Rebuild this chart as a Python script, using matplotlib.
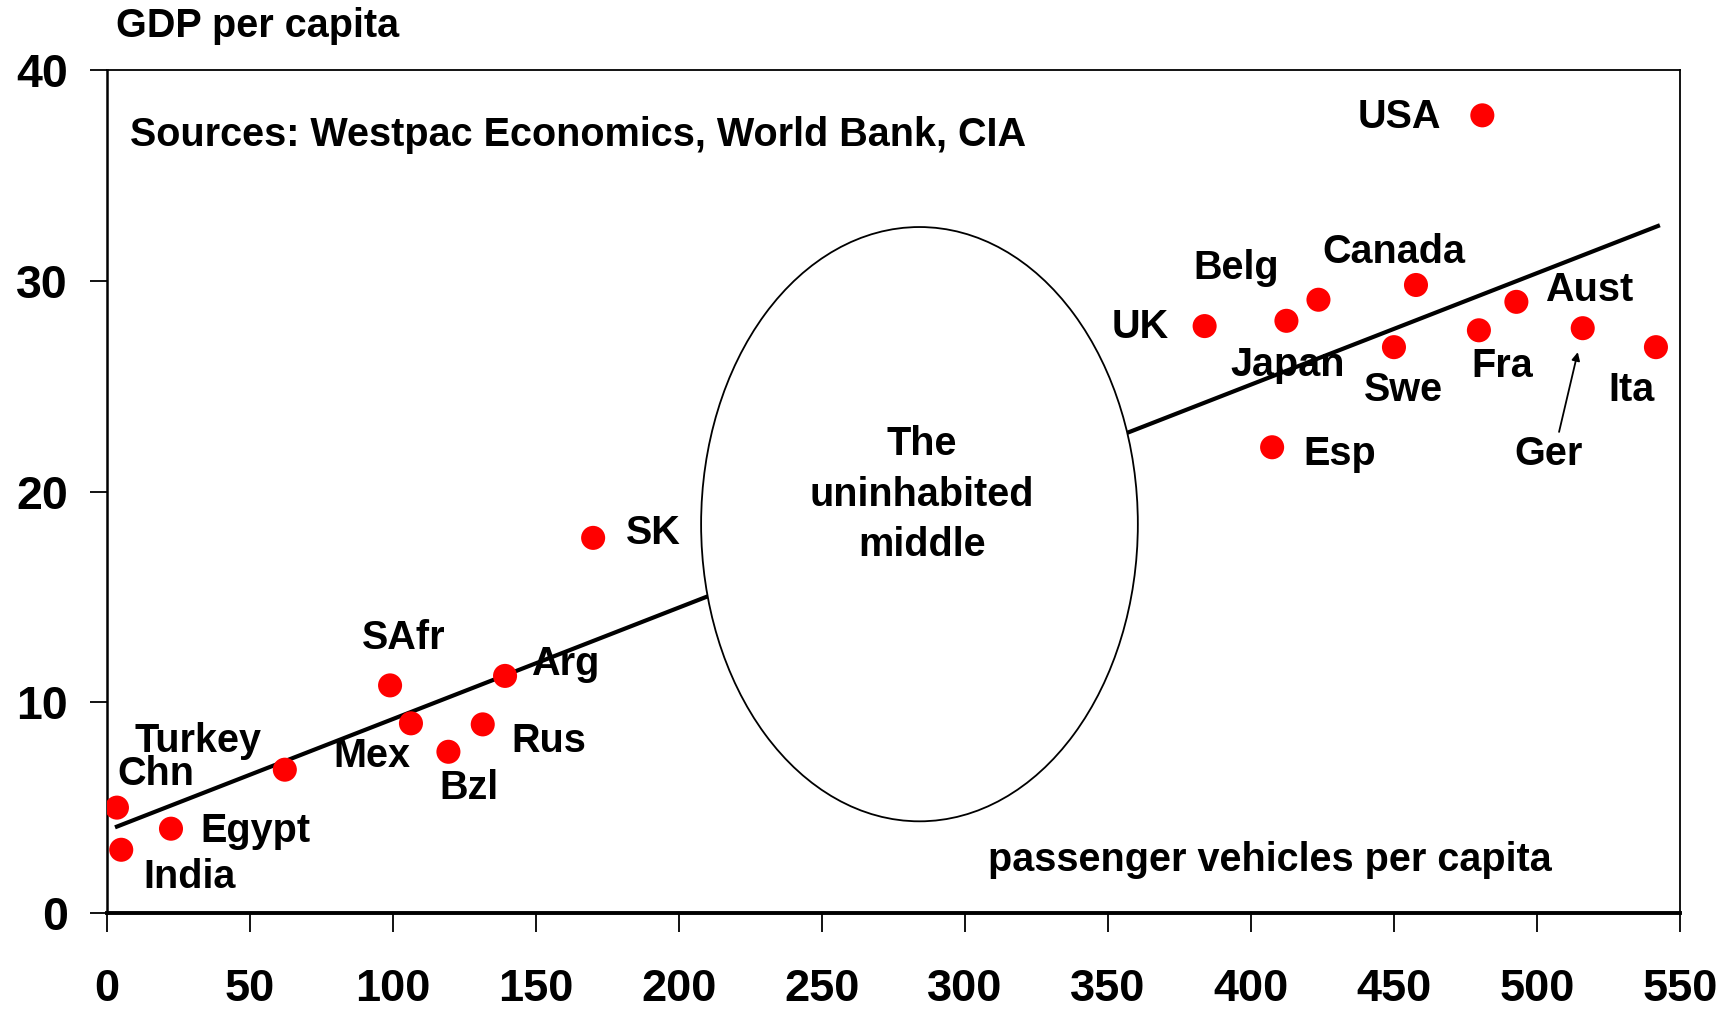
import matplotlib
matplotlib.use("Agg")
import matplotlib.pyplot as plt
from matplotlib.patches import Ellipse

plt.rcParams['font.family'] = ['Liberation Sans', 'DejaVu Sans']
plt.rcParams['font.weight'] = 'bold'

# ---- data ----
countries = ["Chn", "India", "Egypt", "Turkey", "SAfr", "Mex", "Bzl", "Rus", "Arg", "SK",
             "UK", "Esp", "Japan", "Belg", "Swe", "Canada", "Fra", "USA", "Aust", "Ger", "Ita"]
vehicles = [3.5, 5, 22.4, 62.2, 99, 106.3, 119.4, 131.4, 139.2, 170,
            383.8, 407.4, 412.4, 423.6, 450, 457.7, 479.7, 480.9, 492.8, 516, 541.6]
gdp = [5.0, 3.0, 4.0, 6.8, 10.8, 9.0, 7.65, 8.95, 11.25, 17.8,
       27.85, 22.1, 28.1, 29.1, 26.85, 29.8, 27.65, 37.85, 29.0, 27.75, 26.85]
trend_x = [3.5, 542.3]
trend_y = [4.1, 32.6]
x_ticks = [0, 50, 100, 150, 200, 250, 300, 350, 400, 450, 500, 550]
y_ticks = [0, 10, 20, 30, 40]

# ---- label layout (data coords, left-aligned) ----
label_pos = {
    "USA": (437.2, 37.75), "Belg": (380.0, 30.6), "Canada": (424.8, 31.35),
    "UK": (351.4, 27.8), "Aust": (502.9, 29.55), "Japan": (392.7, 26.0),
    "Fra": (477.0, 25.95), "Swe": (439.5, 24.8), "Ita": (524.9, 24.8),
    "Esp": (418.2, 21.8), "Ger": (492.1, 21.8), "SK": (181.3, 18.05),
    "SAfr": (89.3, 13.05), "Arg": (148.4, 11.8), "Turkey": (9.7, 8.15),
    "Rus": (141.5, 8.15), "Mex": (79.2, 7.45), "Chn": (3.5, 6.6),
    "Bzl": (116.4, 5.95), "Egypt": (32.5, 3.9), "India": (12.8, 1.7),
}

FS = 28.5

fig = plt.figure(figsize=(17.33, 10.15), dpi=100)
ax = fig.add_axes([0.0617, 0.1005, 0.9077, 0.8305])

ax.plot(trend_x, trend_y, color='black', lw=3, zorder=2)
ell = Ellipse((284.1, 18.45), 152.7, 28.2, facecolor='white', edgecolor='black', lw=1.3, zorder=3)
ax.add_patch(ell)
ax.scatter(vehicles, gdp, s=300, color='#ff0000', edgecolor='none', zorder=4)

for name, (lx, ly) in label_pos.items():
    ax.text(lx, ly, name, fontsize=FS, fontweight='bold', ha='left', va='center', zorder=5)

ax.annotate("", xy=(514.5, 26.74), xytext=(507.5, 22.7),
            arrowprops=dict(arrowstyle='-|>', color='black', lw=1.3, mutation_scale=12), zorder=5)

ax.text(285, 19.85, "The\nuninhabited\nmiddle", fontsize=FS, fontweight='bold',
        ha='center', va='center', linespacing=1.42, zorder=5)
ax.text(308, 2.5, "passenger vehicles per capita", fontsize=FS, fontweight='bold',
        ha='left', va='center', zorder=5)
ax.text(8.2, 36.9, "Sources: Westpac Economics, World Bank, CIA", fontsize=FS, fontweight='bold',
        ha='left', va='center', zorder=5)
fig.text(0.067, 0.974, "GDP per capita", fontsize=FS, fontweight='bold', ha='left', va='center')

ax.set_xlim(0, 550)
ax.set_ylim(0, 40)
ax.set_xticks(x_ticks)
ax.set_yticks(y_ticks)
ax.set_xticklabels([str(v) for v in x_ticks], fontsize=32.5, fontweight='bold')
ax.set_yticklabels([str(v) for v in y_ticks], fontsize=33.5, fontweight='bold')
ax.tick_params(axis='x', direction='out', length=14, width=1.3, pad=26)
ax.tick_params(axis='y', direction='out', length=12, width=1.3, pad=16)
ax.spines['left'].set_linewidth(1.8)
ax.spines['bottom'].set_linewidth(2.8)
ax.spines['top'].set_linewidth(1.3)
ax.spines['right'].set_linewidth(1.3)

fig.savefig("out.png", dpi=100, facecolor='white')
